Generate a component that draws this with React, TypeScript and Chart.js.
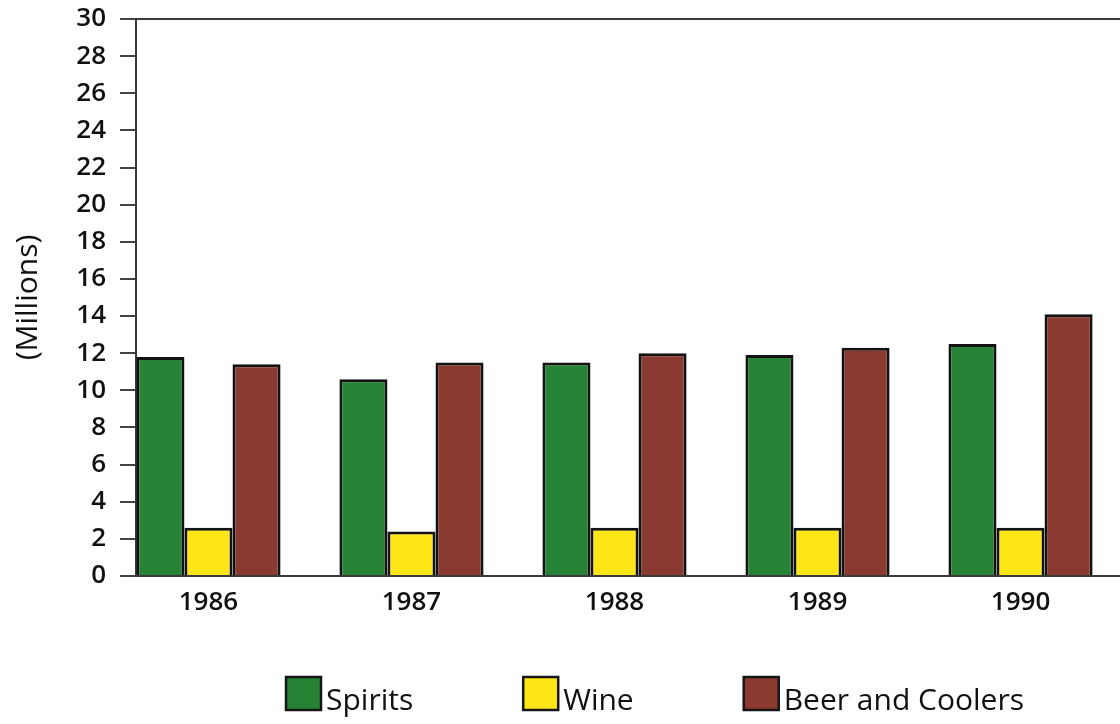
import React, { useEffect, useRef } from "react";
import { Chart, registerables } from "chart.js";

Chart.register(...registerables);

const years = [1986, 1987, 1988, 1989, 1990];
const spirits = [11.8, 10.6, 11.5, 11.9, 12.5];
const wine = [2.6, 2.4, 2.6, 2.6, 2.6];
const beerAndCoolers = [11.4, 11.5, 12.0, 12.3, 14.1];
const yTicks = [0, 2, 4, 6, 8, 10, 12, 14, 16, 18, 20, 22, 24, 26, 28, 30];

const FONT = "'Open Sans', 'Noto Sans', sans-serif";

// Legend drawn under the plot, reading labels and colours from the datasets
const bottomLegend = {
  id: "bottomLegend",
  afterDraw(chart: any) {
    const ctx = chart.ctx;
    const boxW = 35;
    const boxH = 33;
    const gapText = 5;
    const gapItem = 110;
    const top = 677;
    let x = 286;
    ctx.save();
    ctx.font = `30px ${FONT}`;
    ctx.textBaseline = "alphabetic";
    ctx.textAlign = "left";
    chart.data.datasets.forEach((ds: any) => {
      ctx.fillStyle = ds.backgroundColor;
      ctx.fillRect(x, top, boxW, boxH);
      ctx.lineWidth = 2.5;
      ctx.strokeStyle = "#151515";
      ctx.strokeRect(x, top, boxW, boxH);
      ctx.fillStyle = "#111";
      const tx = x + boxW + gapText;
      ctx.fillText(ds.label, tx, top + boxH);
      x = tx + ctx.measureText(ds.label).width + gapItem;
    });
    ctx.restore();
  },
};

export default function App() {
  const ref = useRef<HTMLCanvasElement | null>(null);

  useEffect(() => {
    document.body.style.margin = "0";
    const canvas = ref.current;
    if (!canvas) return;
    const pts = (vals: number[]) => years.map((y, i) => ({ x: y, y: vals[i] }));
    const chart = new Chart(canvas, {
      type: "bar",
      data: {
        datasets: [
          { label: "Spirits", data: pts(spirits), backgroundColor: "#268234", borderColor: "#121212", borderWidth: 3 },
          { label: "Wine", data: pts(wine), backgroundColor: "#ffe617", borderColor: "#121212", borderWidth: 3 },
          { label: "Beer and Coolers", data: pts(beerAndCoolers), backgroundColor: "#8a3a30", borderColor: "#121212", borderWidth: 3 },
        ],
      },
      plugins: [bottomLegend],
      options: {
        animation: false,
        responsive: true,
        maintainAspectRatio: false,
        categoryPercentage: 0.71,
        barPercentage: 1,
        layout: { padding: { top: 19, right: 0, left: 0, bottom: 88 } },
        plugins: {
          tooltip: { enabled: false },
          legend: { display: false },
        },
        scales: {
          x: {
            type: "linear",
            position: "bottom",
            offset: false,
            min: 1985.643,
            max: 1990.49,
            afterBuildTicks: (scale: any) => {
              scale.ticks = years.map((v) => ({ value: v }));
            },
            afterFit: (scale: any) => {
              scale.height = 60;
            },
            ticks: {
              callback: (v: any) => String(v),
              font: { family: FONT, size: 26, weight: "600" },
              color: "#111",
              padding: 11,
              maxRotation: 0,
              autoSkip: false,
            },
            grid: { display: false, drawTicks: false },
            border: { display: true, color: "#3a3a3a", width: 2 },
          },
          x2: {
            type: "linear",
            position: "top",
            offset: false,
            min: 1985.643,
            max: 1990.49,
            ticks: { display: false },
            grid: { display: false, drawTicks: false },
            border: { display: true, color: "#3a3a3a", width: 2 },
            afterFit: (scale: any) => {
              scale.height = 0;
            },
          },
          y: {
            min: 0,
            max: 30,
            afterBuildTicks: (scale: any) => {
              scale.ticks = yTicks.map((v) => ({ value: v }));
            },
            afterFit: (scale: any) => {
              scale.width = 136;
              scale.paddingTop = 12;
              scale.paddingBottom = 12;
            },
            ticks: {
              font: { family: FONT, size: 26, weight: "600" },
              color: "#111",
              padding: 14,
              autoSkip: false,
            },
            grid: { drawOnChartArea: false, drawTicks: true, tickLength: 16, color: "#444", lineWidth: 2 },
            border: { display: true, color: "#3a3a3a", width: 2 },
            title: {
              display: true,
              text: "(Millions)",
              font: { family: FONT, size: 30 },
              color: "#111",
              padding: { top: 10, bottom: 0 },
            },
          },
        },
      },
    } as any);
    return () => chart.destroy();
  }, []);

  return (
    <div style={{ position: "absolute", left: 0, top: 0, width: 1120, height: 724 }}>
      <canvas ref={ref} />
    </div>
  );
}
